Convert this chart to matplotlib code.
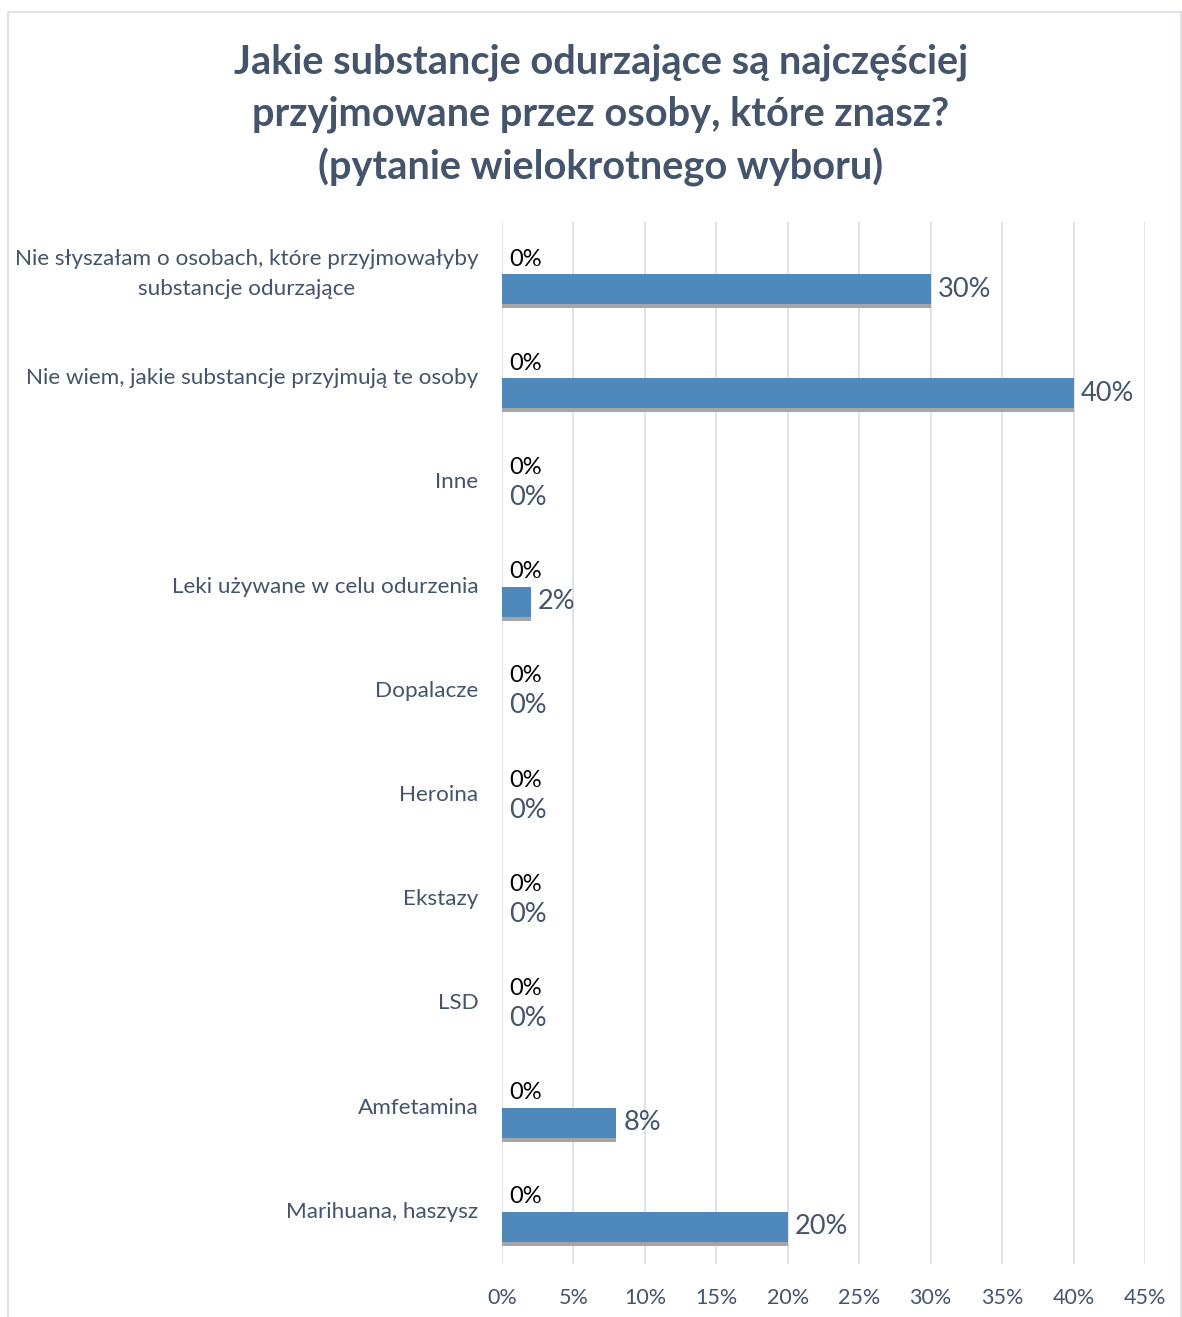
import matplotlib
matplotlib.use("Agg")
import matplotlib.pyplot as plt
import matplotlib.patheffects as pe
from matplotlib.patches import Rectangle
from matplotlib.ticker import FuncFormatter

categories = [
    "Nie słyszałam o osobach, które przyjmowałyby\nsubstancje odurzające",
    "Nie wiem, jakie substancje przyjmują te osoby",
    "Inne",
    "Leki używane w celu odurzenia",
    "Dopalacze",
    "Heroina",
    "Ekstazy",
    "LSD",
    "Amfetamina",
    "Marihuana, haszysz",
]
series_zero = [0, 0, 0, 0, 0, 0, 0, 0, 0, 0]
series_main = [30, 40, 0, 2, 0, 0, 0, 0, 8, 20]
xticks = [0, 5, 10, 15, 20, 25, 30, 35, 40, 45]
title = "Jakie substancje odurzające są najczęściej\nprzyjmowane przez osoby, które znasz?\n(pytanie wielokrotnego wyboru)"

FONT = "Lato"
SLATE = "#44546A"
BLUE = "#4F89BC"
GRID = "#DCE0E8"

W, H = 1182, 1317
fig = plt.figure(figsize=(W / 100, H / 100), dpi=100)
fig.patch.set_facecolor("white")

ax = fig.add_axes([502 / W, 1 - 1264 / H, (1145 - 502) / W, (1264 - 222) / H])

n = len(categories)
ypos = list(range(n))
bh = 0.288
y_zero = [y - bh / 2 for y in ypos]
y_main = [y + bh / 2 for y in ypos]

bz = ax.barh(y_zero, series_zero, height=bh, color="#A5A5A5", zorder=3)
bm = ax.barh(y_main, series_main, height=bh, color=BLUE, zorder=3)
for p in bm.patches:
    p.set_path_effects([pe.SimplePatchShadow(offset=(0, -3), shadow_rgbFace="#A6A6A6", alpha=1.0), pe.Normal()])

ax.bar_label(bz, labels=[f"{v:g}%" for v in series_zero], padding=5,
             fontsize=17, color="black", family=FONT)
ax.bar_label(bm, labels=[f"{v:g}%" for v in series_main], padding=5,
             fontsize=19.5, color=SLATE, family=FONT)

ax.set_xlim(0, 45)
ax.set_ylim(n - 0.5, -0.5)
ax.set_xticks(xticks)
ax.xaxis.set_major_formatter(FuncFormatter(lambda v, p: f"{v:g}%"))
ax.set_yticks(ypos)
ax.set_yticklabels(categories, fontsize=16.2, color=SLATE, family=FONT,
                   multialignment="center", linespacing=1.6)
for lab in ax.get_yticklabels():
    lab.set_verticalalignment("center")
ax.tick_params(axis="y", length=0, pad=17)
ax.tick_params(axis="x", length=0, pad=17, labelsize=15.5, labelcolor=SLATE)
for lab in ax.get_xticklabels():
    lab.set_family(FONT)
ax.grid(axis="x", color=GRID, linewidth=1.3, zorder=0)
ax.set_axisbelow(True)
for s in ax.spines.values():
    s.set_visible(False)

fig.text(601 / W, 1 - 115 / H, title, ha="center", va="center", fontsize=28.6,
         fontweight="bold", color=SLATE, family=FONT, linespacing=1.47)

fig.patches.append(Rectangle((8 / W, -0.01), (1181 - 8) / W, (1 - 12 / H) + 0.01,
                             transform=fig.transFigure, fill=False,
                             edgecolor="#D9DDE3", linewidth=1.2))

fig.savefig("out.png", dpi=100, facecolor="white")
